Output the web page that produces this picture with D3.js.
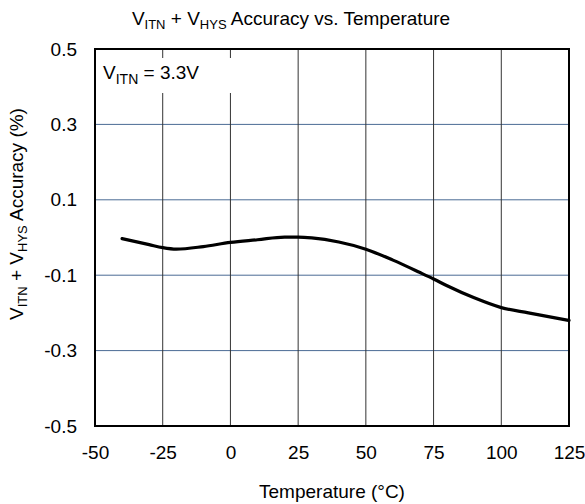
<!DOCTYPE html>
<html><head><meta charset="utf-8">
<script src="https://cdn.jsdelivr.net/npm/d3@7"></script>
<style>body{margin:0;background:#fff}svg{display:block}text{font-family:"Liberation Sans",Arial,sans-serif;fill:#000}</style>
</head><body>
<svg id="c" width="585" height="504"></svg>
<script>
const temps = [-40,-30,-25,-20,-10,0,10,20,25,30,40,50,60,70,75,80,90,100,110,125];
const accuracy = [-0.003,-0.019,-0.027,-0.031,-0.024,-0.013,-0.006,0.001,0.001,-0.001,-0.012,-0.031,-0.060,-0.093,-0.110,-0.128,-0.160,-0.186,-0.200,-0.220];
const xTicks = [-50,-25,0,25,50,75,100,125];
const yTicks = [0.5,0.3,0.1,-0.1,-0.3,-0.5];

const FS = 19, SUB = 13;
const svg = d3.select("#c");
const m = {l:95, r:569, t:49, b:426};
const x = d3.scaleLinear().domain([-50,125]).range([m.l,m.r]);
const y = d3.scaleLinear().domain([-0.5,0.5]).range([m.b,m.t]);
const hy = v => (v<0?"-":"") + Math.abs(v).toFixed(1);

svg.append("g").selectAll("line").data(yTicks.filter(d=>d>-0.5&&d<0.5)).join("line")
  .attr("x1",m.l).attr("x2",m.r).attr("y1",d=>y(d)).attr("y2",d=>y(d))
  .attr("stroke","#4a6b94").attr("stroke-width",1);
svg.append("g").selectAll("line").data(xTicks.filter(d=>d>-50&&d<125)).join("line")
  .attr("x1",d=>x(d)).attr("x2",d=>x(d)).attr("y1",m.t).attr("y2",m.b)
  .attr("stroke","#333").attr("stroke-width",1);

svg.append("rect").attr("x",m.l+1).attr("y",58).attr("width",145).attr("height",35).attr("fill","#fff");
const ann = svg.append("text").attr("x",103).attr("y",78.5).attr("font-size",FS);
ann.append("tspan").text("V");
ann.append("tspan").attr("font-size",14).attr("dy",5).text("ITN");
ann.append("tspan").attr("dy",-5).text(" = 3.3V");

svg.append("rect").attr("x",m.l).attr("y",m.t).attr("width",m.r-m.l).attr("height",m.b-m.t)
  .attr("fill","none").attr("stroke","#000").attr("stroke-width",2);

const line = d3.line().x((d,i)=>x(temps[i])).y(d=>y(d)).curve(d3.curveMonotoneX);
svg.append("path").datum(accuracy).attr("d",line).attr("fill","none").attr("stroke","#000").attr("stroke-width",3.2).attr("stroke-linecap","round");

const xAxis = d3.axisBottom(x).tickValues(xTicks).tickSize(0).tickPadding(0).tickFormat(d=>String(d).replace("\u2212","-"));
const gx = svg.append("g").attr("transform",`translate(0,${m.b})`).call(xAxis);
gx.select(".domain").remove();
gx.selectAll("text").attr("font-size",FS).attr("font-family","Liberation Sans, Arial, sans-serif").attr("fill","#000").attr("dy",null).attr("y",33);

const yAxis = d3.axisLeft(y).tickValues(yTicks).tickSize(0).tickPadding(18).tickFormat(hy);
const gy = svg.append("g").attr("transform",`translate(${m.l},0)`).call(yAxis);
gy.select(".domain").remove();
gy.selectAll("text").attr("font-size",FS).attr("font-family","Liberation Sans, Arial, sans-serif").attr("fill","#000");

const t = svg.append("text").attr("x",291).attr("y",25).attr("text-anchor","middle").attr("font-size",FS);
t.append("tspan").text("V");
t.append("tspan").attr("font-size",SUB).attr("dy",4).text("ITN");
t.append("tspan").attr("dy",-4).text(" + V");
t.append("tspan").attr("font-size",SUB).attr("dy",4).text("HYS");
t.append("tspan").attr("dy",-4).text(" Accuracy vs. Temperature");

svg.append("text").attr("x",(m.l+m.r)/2).attr("y",498).attr("text-anchor","middle").attr("font-size",FS).text("Temperature (°C)");

const yt = svg.append("text").attr("transform",`translate(23,214) rotate(-90)`).attr("text-anchor","middle").attr("font-size",FS);
yt.append("tspan").text("V");
yt.append("tspan").attr("font-size",SUB).attr("dy",4).text("ITN");
yt.append("tspan").attr("dy",-4).text(" + V");
yt.append("tspan").attr("font-size",SUB).attr("dy",4).text("HYS");
yt.append("tspan").attr("dy",-4).text(" Accuracy (%)");
</script>
</body></html>
